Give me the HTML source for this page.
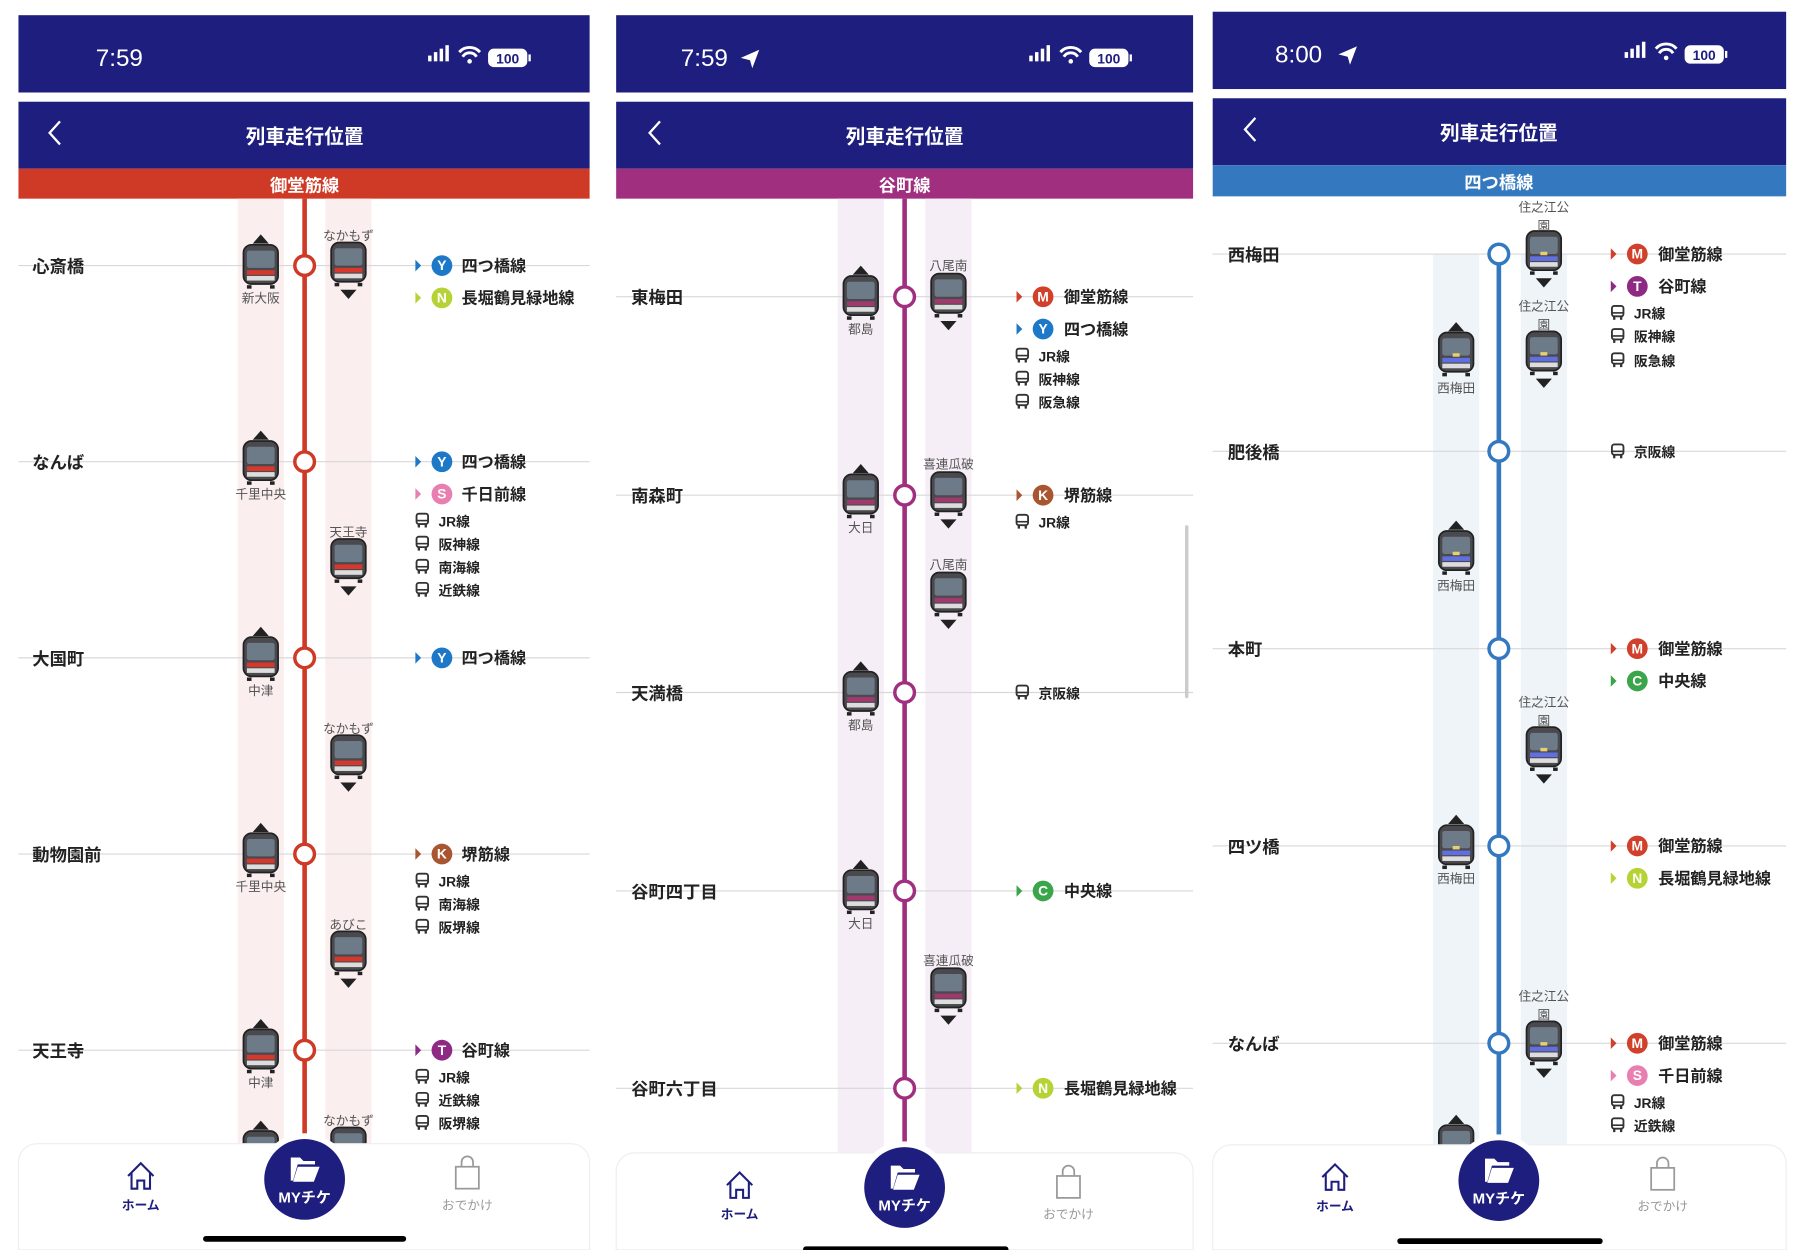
<!DOCTYPE html>
<html><head><meta charset="utf-8"><style>
html,body{margin:0;padding:0;background:#fff;width:1800px;height:1250px;overflow:hidden}
svg{display:block}
text{font-family:"Liberation Sans","Noto Sans CJK JP",sans-serif}
.st{font-size:15px;font-weight:bold;fill:#222}
.tl{font-size:14px;font-weight:bold;fill:#222}
.bl{font-size:12px;font-weight:bold;fill:#222}
.lb{font-size:11px;fill:#555;text-anchor:middle}
.cl{font-size:12px;font-weight:bold;fill:#fff;text-anchor:middle}
.w{fill:#fff}
</style></head><body>
<svg width="1800" height="1250" viewBox="0 0 1560 1083" xmlns="http://www.w3.org/2000/svg">
<defs>
<g id="tr"><rect x="-15" y="-18" width="30" height="34" rx="7" fill="#4a4a4e" stroke="#222" stroke-width="1.5"/><rect x="-12" y="-13" width="24" height="15" rx="2" fill="#6d7a88"/><rect x="-12" y="9" width="24" height="4" fill="#ddd"/><rect x="-12" y="17" width="4" height="3" fill="#222"/><rect x="8" y="17" width="4" height="3" fill="#222"/></g>
<g id="tr1"><use href="#tr"/><rect x="-12" y="4" width="24" height="4" fill="#d8382c"/></g>
<g id="tr2"><use href="#tr"/><rect x="-12" y="4" width="24" height="4" fill="#a03a6e"/></g>
<g id="tr3"><use href="#tr"/><rect x="-12" y="4" width="24" height="4" fill="#6070e0"/><rect x="-3" y="0" width="6" height="3" fill="#e8d070"/></g>
<polygon id="up" points="-7,0 7,0 0,-8" fill="#222"/>
<polygon id="dn" points="-7,0 7,0 0,8" fill="#222"/>
<g id="bus"><rect x="-5" y="-6" width="10" height="9" rx="2" fill="none" stroke="#333" stroke-width="1.6"/><line x1="-5" y1="0" x2="5" y2="0" stroke="#333" stroke-width="1.4"/><rect x="-4" y="3" width="2" height="3" fill="#333"/><rect x="2" y="3" width="2" height="3" fill="#333"/></g>
<g id="sb"><rect x="0" y="-2" width="3" height="5" fill="#fff"/><rect x="5" y="-5" width="3" height="8" fill="#fff"/><rect x="10" y="-8" width="3" height="11" fill="#fff"/><rect x="15" y="-11" width="3" height="14" fill="#fff"/>
<path d="M27,-5 a12,12 0 0 1 18,0" fill="none" stroke="#fff" stroke-width="2.5"/><path d="M30,-1 a7,7 0 0 1 12,0" fill="none" stroke="#fff" stroke-width="2.5"/><circle cx="36" cy="3" r="2" fill="#fff"/>
<rect x="52" y="-8" width="34" height="16" rx="5" fill="#fff"/><rect x="87" y="-3" width="2" height="6" fill="#fff"/><text x="69" y="5" font-size="12" font-weight="bold" fill="#1e1e7e" text-anchor="middle">100</text></g>
<g id="home"><path d="M-11,0 L0,-11 L11,0 M-8,-3 V11 H-3 V4 H3 V11 H8 V-3" fill="none" stroke="#1e1e7e" stroke-width="1.8"/></g>
<g id="bag"><rect x="-10" y="-8" width="20" height="19" fill="none" stroke="#999" stroke-width="1.5"/><path d="M-5,-8 V-12 a5,5 0 0 1 10,0 V-8" fill="none" stroke="#999" stroke-width="1.5"/></g>
<g id="fold"><path d="M-12,-9 h8 l3,3 h10 v3 h-15 l-4,14 h-2 z" fill="#fff"/><path d="M-6,-1 h19 l-5,13 h-18 z" fill="#fff"/></g>
</defs>

<!-- ================= PANEL 1 ================= -->
<rect x="16" y="13" width="495" height="67" fill="#1e1e7e"/>
<text x="83" y="57" font-size="21" fill="#fff">7:59</text>
<use href="#sb" x="371" y="50"/>
<rect x="16" y="88" width="495" height="58" fill="#1e1e7e"/>
<path d="M52,105 l-9,10 l9,10" fill="none" stroke="#fff" stroke-width="2"/>
<text x="264" y="124" font-size="17" font-weight="bold" fill="#fff" text-anchor="middle">列車走行位置</text>
<rect x="16" y="146" width="495" height="26" fill="#cf3a27"/>
<text x="264" y="166" font-size="15" font-weight="bold" fill="#fff" text-anchor="middle">御堂筋線</text>
<rect x="206" y="172" width="40" height="830" fill="#fbeeee"/>
<rect x="282" y="172" width="40" height="830" fill="#fbeeee"/>
<g stroke="#d8d8d8" stroke-width="1"><line x1="16" y1="230" x2="511" y2="230"/><line x1="16" y1="400" x2="511" y2="400"/><line x1="16" y1="570" x2="511" y2="570"/><line x1="16" y1="740" x2="511" y2="740"/><line x1="16" y1="910" x2="511" y2="910"/></g>
<line x1="264" y1="172" x2="264" y2="1000" stroke="#cf3a27" stroke-width="4"/>
<g fill="#fff" stroke="#cf3a27" stroke-width="3"><circle cx="264" cy="230" r="8.5"/><circle cx="264" cy="400" r="8.5"/><circle cx="264" cy="570" r="8.5"/><circle cx="264" cy="740" r="8.5"/><circle cx="264" cy="910" r="8.5"/></g>
<text class="st" x="28" y="236">心斎橋</text><text class="st" x="28" y="406">なんば</text><text class="st" x="28" y="576">大国町</text><text class="st" x="28" y="746">動物園前</text><text class="st" x="28" y="916">天王寺</text>
<!-- trains -->
<use href="#tr1" x="226" y="230"/><use href="#up" x="226" y="211"/><text class="lb" x="226" y="262">新大阪</text>
<use href="#tr1" x="226" y="400"/><use href="#up" x="226" y="381"/><text class="lb" x="226" y="432">千里中央</text>
<use href="#tr1" x="226" y="570"/><use href="#up" x="226" y="551"/><text class="lb" x="226" y="602">中津</text>
<use href="#tr1" x="226" y="740"/><use href="#up" x="226" y="721"/><text class="lb" x="226" y="772">千里中央</text>
<use href="#tr1" x="226" y="910"/><use href="#up" x="226" y="891"/><text class="lb" x="226" y="942">中津</text>
<use href="#tr1" x="226" y="998"/><use href="#up" x="226" y="979"/>
<use href="#tr1" x="302" y="228"/><use href="#dn" x="302" y="251"/><text class="lb" x="302" y="208">なかもず</text>
<use href="#tr1" x="302" y="485"/><use href="#dn" x="302" y="508"/><text class="lb" x="302" y="465">天王寺</text>
<use href="#tr1" x="302" y="655"/><use href="#dn" x="302" y="678"/><text class="lb" x="302" y="635">なかもず</text>
<use href="#tr1" x="302" y="825"/><use href="#dn" x="302" y="848"/><text class="lb" x="302" y="805">あびこ</text>
<use href="#tr1" x="302" y="995"/><text class="lb" x="302" y="975">なかもず</text>
<!-- transfers -->
<polygon points="360,225 365,230 360,235" fill="#1e78c8"/><circle cx="383" cy="230" r="9" fill="#1e78c8"/><text class="cl" x="383" y="234">Y</text><text class="tl" x="400" y="235">四つ橋線</text>
<polygon points="360,253 365,258 360,263" fill="#b5d334"/><circle cx="383" cy="258" r="9" fill="#b5d334"/><text class="cl" x="383" y="262">N</text><text class="tl" x="400" y="263">長堀鶴見緑地線</text>
<polygon points="360,395 365,400 360,405" fill="#1e78c8"/><circle cx="383" cy="400" r="9" fill="#1e78c8"/><text class="cl" x="383" y="404">Y</text><text class="tl" x="400" y="405">四つ橋線</text>
<polygon points="360,423 365,428 360,433" fill="#e87fb0"/><circle cx="383" cy="428" r="9" fill="#e87fb0"/><text class="cl" x="383" y="432">S</text><text class="tl" x="400" y="433">千日前線</text>
<use href="#bus" x="366" y="451"/><text class="bl" x="380" y="456">JR線</text>
<use href="#bus" x="366" y="471"/><text class="bl" x="380" y="476">阪神線</text>
<use href="#bus" x="366" y="491"/><text class="bl" x="380" y="496">南海線</text>
<use href="#bus" x="366" y="511"/><text class="bl" x="380" y="516">近鉄線</text>
<polygon points="360,565 365,570 360,575" fill="#1e78c8"/><circle cx="383" cy="570" r="9" fill="#1e78c8"/><text class="cl" x="383" y="574">Y</text><text class="tl" x="400" y="575">四つ橋線</text>
<polygon points="360,735 365,740 360,745" fill="#a85530"/><circle cx="383" cy="740" r="9" fill="#a85530"/><text class="cl" x="383" y="744">K</text><text class="tl" x="400" y="745">堺筋線</text>
<use href="#bus" x="366" y="763"/><text class="bl" x="380" y="768">JR線</text>
<use href="#bus" x="366" y="783"/><text class="bl" x="380" y="788">南海線</text>
<use href="#bus" x="366" y="803"/><text class="bl" x="380" y="808">阪堺線</text>
<polygon points="360,905 365,910 360,915" fill="#8e2a84"/><circle cx="383" cy="910" r="9" fill="#8e2a84"/><text class="cl" x="383" y="914">T</text><text class="tl" x="400" y="915">谷町線</text>
<use href="#bus" x="366" y="933"/><text class="bl" x="380" y="938">JR線</text>
<use href="#bus" x="366" y="953"/><text class="bl" x="380" y="958">近鉄線</text>
<use href="#bus" x="366" y="973"/><text class="bl" x="380" y="978">阪堺線</text>
<!-- nav -->
<path d="M16,1083 V1007 a16,16 0 0 1 16,-16 H495 a16,16 0 0 1 16,16 V1083 Z" fill="#fff" stroke="#eee"/>
<circle cx="264" cy="1022" r="40" fill="#fff"/>
<circle cx="264" cy="1022" r="35" fill="#1e1e7e"/>
<use href="#fold" x="264" y="1012"/>
<text x="264" y="1042" font-size="13" font-weight="bold" fill="#fff" text-anchor="middle">MYチケ</text>
<use href="#home" x="122" y="1019"/><text x="122" y="1048" font-size="11" font-weight="bold" fill="#1e1e7e" text-anchor="middle">ホーム</text>
<use href="#bag" x="405" y="1019"/><text x="405" y="1048" font-size="11" fill="#999" text-anchor="middle">おでかけ</text>
<rect x="176" y="1071" width="176" height="5" rx="2.5" fill="#000"/>

<!-- ================= PANEL 2 ================= -->
<rect x="534" y="13" width="500" height="67" fill="#1e1e7e"/>
<text x="590" y="57" font-size="21" fill="#fff">7:59</text>
<path d="M642,50 l16,-7 l-6,16 l-2,-7 z" fill="#fff"/>
<use href="#sb" x="892" y="50"/>
<rect x="534" y="88" width="500" height="58" fill="#1e1e7e"/>
<path d="M572,105 l-9,10 l9,10" fill="none" stroke="#fff" stroke-width="2"/>
<text x="784" y="124" font-size="17" font-weight="bold" fill="#fff" text-anchor="middle">列車走行位置</text>
<rect x="534" y="146" width="500" height="26" fill="#a0307f"/>
<text x="784" y="166" font-size="15" font-weight="bold" fill="#fff" text-anchor="middle">谷町線</text>
<rect x="726" y="172" width="40" height="830" fill="#f6eef6"/>
<rect x="802" y="172" width="40" height="830" fill="#f6eef6"/>
<g stroke="#d8d8d8" stroke-width="1"><line x1="534" y1="257" x2="1034" y2="257"/><line x1="534" y1="429" x2="1034" y2="429"/><line x1="534" y1="600" x2="1034" y2="600"/><line x1="534" y1="772" x2="1034" y2="772"/><line x1="534" y1="943" x2="1034" y2="943"/></g>
<line x1="784" y1="172" x2="784" y2="1000" stroke="#a0307f" stroke-width="4"/>
<g fill="#fff" stroke="#a0307f" stroke-width="3"><circle cx="784" cy="257" r="8.5"/><circle cx="784" cy="429" r="8.5"/><circle cx="784" cy="600" r="8.5"/><circle cx="784" cy="772" r="8.5"/><circle cx="784" cy="943" r="8.5"/></g>
<text class="st" x="547" y="263">東梅田</text><text class="st" x="547" y="435">南森町</text><text class="st" x="547" y="606">天満橋</text><text class="st" x="547" y="778">谷町四丁目</text><text class="st" x="547" y="949">谷町六丁目</text>
<use href="#tr2" x="746" y="257"/><use href="#up" x="746" y="238"/><text class="lb" x="746" y="289">都島</text>
<use href="#tr2" x="746" y="429"/><use href="#up" x="746" y="410"/><text class="lb" x="746" y="461">大日</text>
<use href="#tr2" x="746" y="600"/><use href="#up" x="746" y="581"/><text class="lb" x="746" y="632">都島</text>
<use href="#tr2" x="746" y="772"/><use href="#up" x="746" y="753"/><text class="lb" x="746" y="804">大日</text>
<use href="#tr2" x="822" y="255"/><use href="#dn" x="822" y="278"/><text class="lb" x="822" y="234">八尾南</text>
<use href="#tr2" x="822" y="427"/><use href="#dn" x="822" y="450"/><text class="lb" x="822" y="406">喜連瓜破</text>
<use href="#tr2" x="822" y="514"/><use href="#dn" x="822" y="537"/><text class="lb" x="822" y="493">八尾南</text>
<use href="#tr2" x="822" y="857"/><use href="#dn" x="822" y="880"/><text class="lb" x="822" y="836">喜連瓜破</text>
<polygon points="881,252 886,257 881,262" fill="#d0402a"/><circle cx="904" cy="257" r="9" fill="#d0402a"/><text class="cl" x="904" y="261">M</text><text class="tl" x="922" y="262">御堂筋線</text>
<polygon points="881,280 886,285 881,290" fill="#1e78c8"/><circle cx="904" cy="285" r="9" fill="#1e78c8"/><text class="cl" x="904" y="289">Y</text><text class="tl" x="922" y="290">四つ橋線</text>
<use href="#bus" x="886" y="308"/><text class="bl" x="900" y="313">JR線</text>
<use href="#bus" x="886" y="328"/><text class="bl" x="900" y="333">阪神線</text>
<use href="#bus" x="886" y="348"/><text class="bl" x="900" y="353">阪急線</text>
<polygon points="881,424 886,429 881,434" fill="#a85530"/><circle cx="904" cy="429" r="9" fill="#a85530"/><text class="cl" x="904" y="433">K</text><text class="tl" x="922" y="434">堺筋線</text>
<use href="#bus" x="886" y="452"/><text class="bl" x="900" y="457">JR線</text>
<use href="#bus" x="886" y="600"/><text class="bl" x="900" y="605">京阪線</text>
<polygon points="881,767 886,772 881,777" fill="#3aa54a"/><circle cx="904" cy="772" r="9" fill="#3aa54a"/><text class="cl" x="904" y="776">C</text><text class="tl" x="922" y="777">中央線</text>
<polygon points="881,938 886,943 881,948" fill="#b5d334"/><circle cx="904" cy="943" r="9" fill="#b5d334"/><text class="cl" x="904" y="947">N</text><text class="tl" x="922" y="948">長堀鶴見緑地線</text>
<rect x="1027" y="455" width="3" height="150" rx="1.5" fill="#ccc"/>
<path d="M534,1083 V1015 a16,16 0 0 1 16,-16 H1018 a16,16 0 0 1 16,16 V1083 Z" fill="#fff" stroke="#eee"/>
<circle cx="784" cy="1029" r="40" fill="#fff"/>
<circle cx="784" cy="1029" r="35" fill="#1e1e7e"/>
<use href="#fold" x="784" y="1019"/>
<text x="784" y="1049" font-size="13" font-weight="bold" fill="#fff" text-anchor="middle">MYチケ</text>
<use href="#home" x="641" y="1027"/><text x="641" y="1056" font-size="11" font-weight="bold" fill="#1e1e7e" text-anchor="middle">ホーム</text>
<use href="#bag" x="926" y="1027"/><text x="926" y="1056" font-size="11" fill="#999" text-anchor="middle">おでかけ</text>
<rect x="696" y="1080" width="178" height="5" rx="2.5" fill="#000"/>

<!-- ================= PANEL 3 ================= -->
<rect x="1051" y="10" width="497" height="67" fill="#1e1e7e"/>
<text x="1105" y="54" font-size="21" fill="#fff">8:00</text>
<path d="M1160,47 l16,-7 l-6,16 l-2,-7 z" fill="#fff"/>
<use href="#sb" x="1408" y="47"/>
<rect x="1051" y="85" width="497" height="58" fill="#1e1e7e"/>
<path d="M1088,102 l-9,10 l9,10" fill="none" stroke="#fff" stroke-width="2"/>
<text x="1299" y="121" font-size="17" font-weight="bold" fill="#fff" text-anchor="middle">列車走行位置</text>
<rect x="1051" y="143" width="497" height="27" fill="#3478c0"/>
<text x="1299" y="163" font-size="15" font-weight="bold" fill="#fff" text-anchor="middle">四つ橋線</text>
<rect x="1242" y="220" width="40" height="782" fill="#eef4f8"/>
<rect x="1318" y="220" width="40" height="782" fill="#eef4f8"/>
<g stroke="#d8d8d8" stroke-width="1"><line x1="1051" y1="220" x2="1548" y2="220"/><line x1="1051" y1="391" x2="1548" y2="391"/><line x1="1051" y1="562" x2="1548" y2="562"/><line x1="1051" y1="733" x2="1548" y2="733"/><line x1="1051" y1="904" x2="1548" y2="904"/></g>
<line x1="1299" y1="220" x2="1299" y2="1000" stroke="#3478c0" stroke-width="4"/>
<g fill="#fff" stroke="#3478c0" stroke-width="3"><circle cx="1299" cy="220" r="8.5"/><circle cx="1299" cy="391" r="8.5"/><circle cx="1299" cy="562" r="8.5"/><circle cx="1299" cy="733" r="8.5"/><circle cx="1299" cy="904" r="8.5"/></g>
<text class="st" x="1064" y="226">西梅田</text><text class="st" x="1064" y="397">肥後橋</text><text class="st" x="1064" y="568">本町</text><text class="st" x="1064" y="739">四ツ橋</text><text class="st" x="1064" y="910">なんば</text>
<use href="#tr3" x="1338" y="218"/><use href="#dn" x="1338" y="241"/><text class="lb" x="1338" y="183">住之江公</text><text class="lb" x="1338" y="199">園</text>
<use href="#tr3" x="1338" y="305"/><use href="#dn" x="1338" y="328"/><text class="lb" x="1338" y="269">住之江公</text><text class="lb" x="1338" y="285">園</text>
<use href="#tr3" x="1338" y="648"/><use href="#dn" x="1338" y="671"/><text class="lb" x="1338" y="612">住之江公</text><text class="lb" x="1338" y="628">園</text>
<use href="#tr3" x="1338" y="903"/><use href="#dn" x="1338" y="926"/><text class="lb" x="1338" y="867">住之江公</text><text class="lb" x="1338" y="883">園</text>
<use href="#tr3" x="1262" y="306"/><use href="#up" x="1262" y="287"/><text class="lb" x="1262" y="340">西梅田</text>
<use href="#tr3" x="1262" y="478"/><use href="#up" x="1262" y="459"/><text class="lb" x="1262" y="511">西梅田</text>
<use href="#tr3" x="1262" y="733"/><use href="#up" x="1262" y="714"/><text class="lb" x="1262" y="765">西梅田</text>
<use href="#tr3" x="1262" y="993"/><use href="#up" x="1262" y="974"/>
<polygon points="1396,215 1401,220 1396,225" fill="#d0402a"/><circle cx="1419" cy="220" r="9" fill="#d0402a"/><text class="cl" x="1419" y="224">M</text><text class="tl" x="1437" y="225">御堂筋線</text>
<polygon points="1396,243 1401,248 1396,253" fill="#8e2a84"/><circle cx="1419" cy="248" r="9" fill="#8e2a84"/><text class="cl" x="1419" y="252">T</text><text class="tl" x="1437" y="253">谷町線</text>
<use href="#bus" x="1402" y="271"/><text class="bl" x="1416" y="276">JR線</text>
<use href="#bus" x="1402" y="291"/><text class="bl" x="1416" y="296">阪神線</text>
<use href="#bus" x="1402" y="312"/><text class="bl" x="1416" y="317">阪急線</text>
<use href="#bus" x="1402" y="391"/><text class="bl" x="1416" y="396">京阪線</text>
<polygon points="1396,557 1401,562 1396,567" fill="#d0402a"/><circle cx="1419" cy="562" r="9" fill="#d0402a"/><text class="cl" x="1419" y="566">M</text><text class="tl" x="1437" y="567">御堂筋線</text>
<polygon points="1396,585 1401,590 1396,595" fill="#3aa54a"/><circle cx="1419" cy="590" r="9" fill="#3aa54a"/><text class="cl" x="1419" y="594">C</text><text class="tl" x="1437" y="595">中央線</text>
<polygon points="1396,728 1401,733 1396,738" fill="#d0402a"/><circle cx="1419" cy="733" r="9" fill="#d0402a"/><text class="cl" x="1419" y="737">M</text><text class="tl" x="1437" y="738">御堂筋線</text>
<polygon points="1396,756 1401,761 1396,766" fill="#b5d334"/><circle cx="1419" cy="761" r="9" fill="#b5d334"/><text class="cl" x="1419" y="765">N</text><text class="tl" x="1437" y="766">長堀鶴見緑地線</text>
<polygon points="1396,899 1401,904 1396,909" fill="#d0402a"/><circle cx="1419" cy="904" r="9" fill="#d0402a"/><text class="cl" x="1419" y="908">M</text><text class="tl" x="1437" y="909">御堂筋線</text>
<polygon points="1396,927 1401,932 1396,937" fill="#e87fb0"/><circle cx="1419" cy="932" r="9" fill="#e87fb0"/><text class="cl" x="1419" y="936">S</text><text class="tl" x="1437" y="937">千日前線</text>
<use href="#bus" x="1402" y="955"/><text class="bl" x="1416" y="960">JR線</text>
<use href="#bus" x="1402" y="975"/><text class="bl" x="1416" y="980">近鉄線</text>
<path d="M1051,1083 V1008 a16,16 0 0 1 16,-16 H1532 a16,16 0 0 1 16,16 V1083 Z" fill="#fff" stroke="#eee"/>
<circle cx="1299" cy="1023" r="40" fill="#fff"/>
<circle cx="1299" cy="1023" r="35" fill="#1e1e7e"/>
<use href="#fold" x="1299" y="1013"/>
<text x="1299" y="1043" font-size="13" font-weight="bold" fill="#fff" text-anchor="middle">MYチケ</text>
<use href="#home" x="1157" y="1020"/><text x="1157" y="1049" font-size="11" font-weight="bold" fill="#1e1e7e" text-anchor="middle">ホーム</text>
<use href="#bag" x="1441" y="1020"/><text x="1441" y="1049" font-size="11" fill="#999" text-anchor="middle">おでかけ</text>
<rect x="1211" y="1073" width="178" height="5" rx="2.5" fill="#000"/>
</svg>
</body></html>
